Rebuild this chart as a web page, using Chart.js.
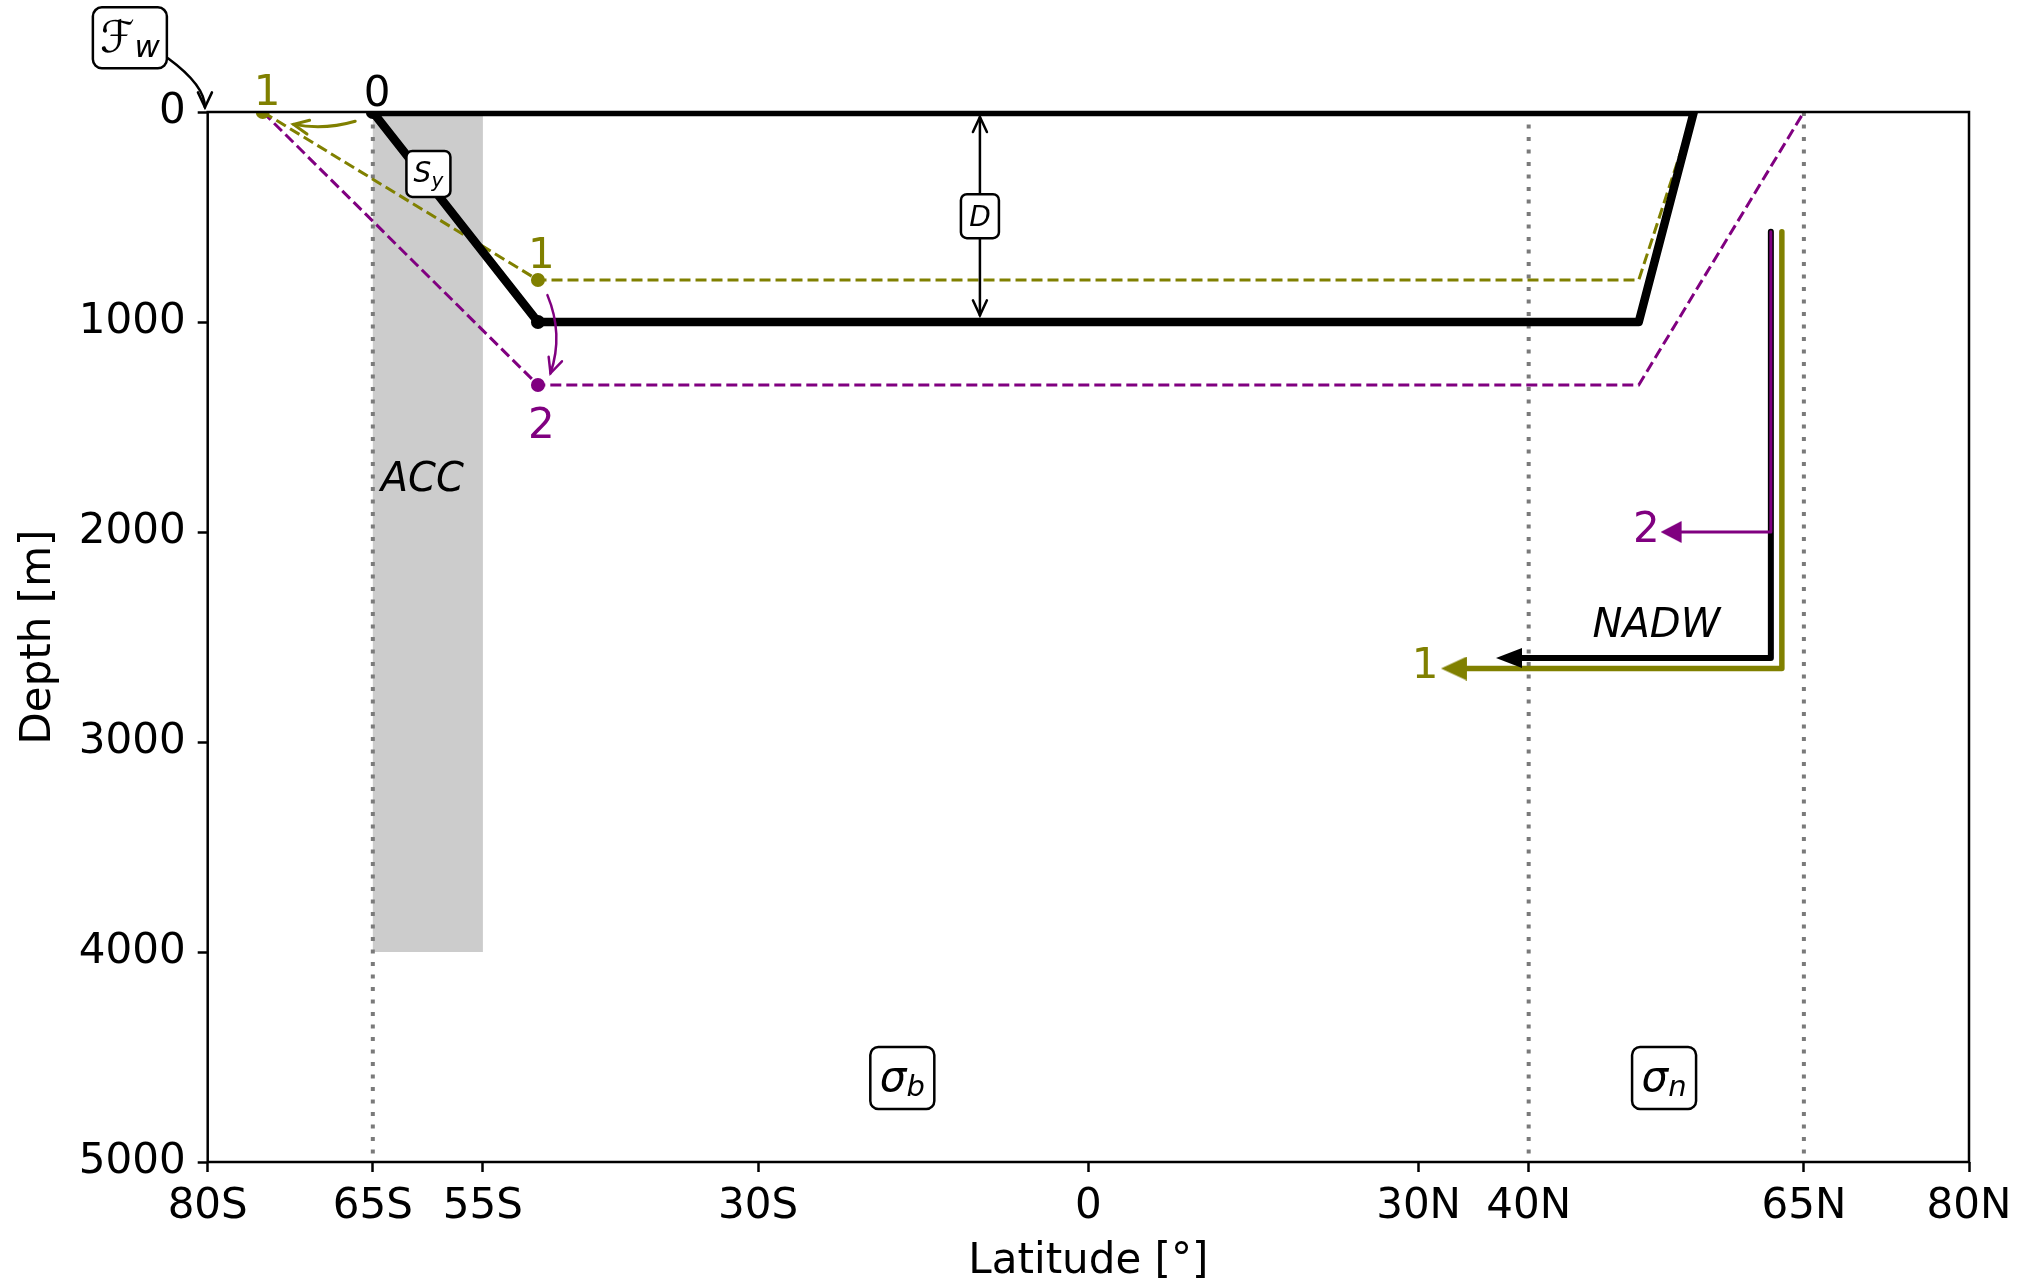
<!DOCTYPE html>
<html>
<head>
<meta charset="utf-8">
<script src="https://cdn.jsdelivr.net/npm/chart.js@4.4.1/dist/chart.umd.min.js"></script>
<style>
html, body { margin: 0; padding: 0; background: #fff; }
</style>
</head>
<body>
<canvas id="myChart" width="2034" height="1283"></canvas>
<script>
const olive = '#808000';
const purple = '#800080';
const FONT = '"DejaVu Sans", "Liberation Sans", sans-serif';

// axes
const xTickVals = [-80, -65, -55, -30, 0, 30, 40, 65, 80];
const xTickLabels = ['80S', '65S', '55S', '30S', '0', '30N', '40N', '65N', '80N'];
const yTickVals = [0, 1000, 2000, 3000, 4000, 5000];

// ACC band
const accLat = [-65, -55, -55, -65];
const accDepth = [0, 0, 4000, 4000];
// dotted latitudes
const frontLat = [-65, 40, 65];

// pycnocline states
const baseLat = [-65, -50, 50, 55, -65];
const baseDepth = [0, 1000, 1000, 0, 0];
const pert1Lat = [-75, -50, 50, 55];
const pert1Depth = [0, 800, 800, 0];
const pert2Lat = [-75, -50, 50, 65];
const pert2Depth = [0, 1300, 1300, 0];

// NADW outflow paths (last point = arrow base)
const nadw0Lat = [62, 62, 39.3];
const nadw0Depth = [570, 2600, 2600];
const nadw1Lat = [63, 63, 34.3];
const nadw1Depth = [570, 2650, 2650];
const nadw2Lat = [62, 62, 53.8];
const nadw2Depth = [570, 2000, 2000];

// text annotations (data coords)
const numNotes = [
    { text: '0', lat: -64.6, depth: -103, color: '#000' },
    { text: '1', lat: -74.6, depth: -106, color: olive },
    { text: '1', lat: -49.7, depth: 668, color: olive },
    { text: '2', lat: -49.7, depth: 1480, color: purple },
    { text: '2', lat: 50.7, depth: 1976, color: purple },
    { text: '1', lat: 30.6, depth: 2624, color: olive }
];
const wordNotes = [
    { text: 'ACC', lat: -60.5, depth: 1734 },
    { text: 'NADW', lat: 51.6, depth: 2431 }
];
const boxNotes = [
    { main: 'ℱ', sub: 'w', lat: -87.07, depth: -353, size: 44, w: 74, h: 61, r: 9, base: 14, italic: false },
    { main: 'S', sub: 'y', lat: -59.95, depth: 295, size: 28, w: 44, h: 46, r: 6, base: 8, italic: true },
    { main: 'D', sub: '', lat: -9.85, depth: 496, size: 28, w: 38, h: 44, r: 6, base: 10, italic: true },
    { main: 'σ', sub: 'b', lat: -16.9, depth: 4600, size: 42, w: 64, h: 62, r: 8, base: 13, italic: true },
    { main: 'σ', sub: 'n', lat: 52.3, depth: 4600, size: 42, w: 64, h: 62, r: 8, base: 13, italic: true }
];
const curveNotes = [
    { from: [-83.61, -256], ctrl: [-80.25, -127], to: [-80.25, -22], color: '#000', width: 2.5 },
    { from: [-66.6, 44], ctrl: [-69.4, 87], to: [-72.2, 59], color: olive, width: 3 },
    { from: [-49.14, 872], ctrl: [-47.66, 1058], to: [-48.86, 1244], color: purple, width: 2.5 }
];
const dArrow = { lat: -9.85, top: 24, bottom: 968 };

const pts = (xs, ys) => xs.map((x, i) => ({ x, y: ys[i] }));

// filled arrow head, base at canvas centre, tip pointing left
function headImg(color, len, half) {
    const c = document.createElement('canvas');
    c.width = len * 2; c.height = half * 2;
    const g = c.getContext('2d');
    g.fillStyle = color;
    g.beginPath();
    g.moveTo(0, half); g.lineTo(len + 1, 0); g.lineTo(len + 1, half * 2);
    g.closePath(); g.fill();
    return c;
}

const datasets = [];
datasets.push({
    data: pts(accLat, accDepth), showLine: true, fill: 'shape',
    backgroundColor: '#cccccc', borderColor: 'rgba(0,0,0,0)', borderWidth: 0,
    pointRadius: 0, order: 20
});
frontLat.forEach(lat => datasets.push({
    data: [{ x: lat, y: 0 }, { x: lat, y: 5000 }], showLine: true,
    borderColor: '#7a7a7a', borderWidth: 4, borderDash: [4, 8.5],
    pointRadius: 0, order: 15, clip: 0
}));
datasets.push({
    data: pts(pert2Lat, pert2Depth), showLine: true,
    borderColor: purple, borderWidth: 3, borderDash: [11, 5],
    pointRadius: [0, 7, 0, 0], pointBackgroundColor: purple, pointBorderWidth: 0,
    order: 7, clip: 0
});
datasets.push({
    data: pts(pert1Lat, pert1Depth), showLine: true,
    borderColor: olive, borderWidth: 3, borderDash: [11, 5],
    pointRadius: [7, 7, 0, 0], pointBackgroundColor: olive, pointBorderWidth: 0,
    order: 6, clip: 0
});
datasets.push({
    data: pts(baseLat, baseDepth), showLine: true,
    borderColor: '#000', borderWidth: 8.5, borderJoinStyle: 'round',
    pointRadius: [7, 7, 0, 0, 0], pointBackgroundColor: '#000', pointBorderWidth: 0,
    order: 5, clip: 0
});
const arrowSets = [
    [nadw1Lat, nadw1Depth, olive, 5.5, headImg(olive, 25, 12), 4],
    [nadw0Lat, nadw0Depth, '#000', 6, headImg('#000', 25, 10), 3],
    [nadw2Lat, nadw2Depth, purple, 3, headImg(purple, 20, 11), 2]
];
arrowSets.forEach(([la, de, col, w, img, ord]) => datasets.push({
    data: pts(la, de), showLine: true,
    borderColor: col, borderWidth: w, borderCapStyle: 'round', borderJoinStyle: 'round',
    pointRadius: [0, 0, 5], pointStyle: ['circle', 'circle', img],
    order: ord
}));

function openHead(c, tx, ty, ang, len, half) {
    const ca = Math.cos(ang), sa = Math.sin(ang);
    const bx = tx - ca * len, by = ty - sa * len;
    c.beginPath();
    c.moveTo(bx - sa * half, by + ca * half);
    c.lineTo(tx, ty);
    c.lineTo(bx + sa * half, by - ca * half);
    c.stroke();
}

function roundBox(c, x, y, w, h, r) {
    c.beginPath();
    c.moveTo(x + r, y);
    c.arcTo(x + w, y, x + w, y + h, r);
    c.arcTo(x + w, y + h, x, y + h, r);
    c.arcTo(x, y + h, x, y, r);
    c.arcTo(x, y, x + w, y, r);
    c.closePath();
}

const notesPlugin = {
    id: 'notes',
    afterDatasetsDraw(chart) {
        const c = chart.ctx, xs = chart.scales.x, ys = chart.scales.y, a = chart.chartArea;
        const P = (lat, d) => [xs.getPixelForValue(lat), ys.getPixelForValue(d)];
        c.save();
        // frame
        c.strokeStyle = '#000'; c.lineWidth = 2.5;
        c.strokeRect(a.left, a.top, a.right - a.left, a.bottom - a.top);

        // numbers
        c.textAlign = 'center'; c.textBaseline = 'alphabetic';
        c.font = '42px ' + FONT;
        numNotes.forEach(n => {
            const [x, y] = P(n.lat, n.depth);
            c.fillStyle = n.color;
            c.fillText(n.text, x, y + 15.3);
        });
        c.font = 'italic 40px ' + FONT;
        c.fillStyle = '#000';
        wordNotes.forEach(n => {
            const [x, y] = P(n.lat, n.depth);
            c.fillText(n.text, x, y + 14.6);
        });

        // curved arrows
        c.lineCap = 'round';
        curveNotes.forEach(k => {
            const [x0, y0] = P(...k.from), [x1, y1] = P(...k.ctrl), [x2, y2] = P(...k.to);
            c.strokeStyle = k.color; c.lineWidth = k.width;
            c.beginPath(); c.moveTo(x0, y0); c.quadraticCurveTo(x1, y1, x2, y2); c.stroke();
            openHead(c, x2, y2, Math.atan2(y2 - y1, x2 - x1), 15, 7);
        });

        // D double arrow
        const [dx, dt] = P(dArrow.lat, dArrow.top), [, db] = P(dArrow.lat, dArrow.bottom);
        c.strokeStyle = '#000'; c.lineWidth = 2.5;
        c.beginPath(); c.moveTo(dx, dt); c.lineTo(dx, db); c.stroke();
        openHead(c, dx, dt, -Math.PI / 2, 15, 7);
        openHead(c, dx, db, Math.PI / 2, 15, 7);

        // boxed symbols
        boxNotes.forEach(b => {
            const [x, y] = P(b.lat, b.depth);
            roundBox(c, x - b.w / 2, y - b.h / 2, b.w, b.h, b.r);
            c.fillStyle = '#fff'; c.fill();
            c.strokeStyle = '#000'; c.lineWidth = 2.5; c.stroke();
            const mf = (b.italic ? 'italic ' : '') + b.size + 'px ' + FONT;
            const sf = 'italic ' + Math.round(b.size * 0.7) + 'px ' + FONT;
            c.font = mf; const mw = c.measureText(b.main).width;
            c.font = sf; const sw = b.sub ? c.measureText(b.sub).width : 0;
            const x0 = x - (mw + sw) / 2;
            c.fillStyle = '#000'; c.textAlign = 'left';
            c.font = mf; c.fillText(b.main, x0, y + b.base);
            if (b.sub) { c.font = sf; c.fillText(b.sub, x0 + mw, y + b.base + 5); }
            c.textAlign = 'center';
        });
        c.restore();
    }
};

const tickFont = { family: FONT, size: 42 };
const myChart = new Chart(document.getElementById('myChart'), {
    type: 'scatter',
    data: { datasets },
    options: {
        responsive: false,
        animation: false,
        layout: { padding: { top: 112, right: 65, left: 0, bottom: 0 } },
        plugins: { legend: { display: false }, tooltip: { enabled: false } },
        scales: {
            x: {
                type: 'linear', min: -80, max: 80,
                afterBuildTicks: s => { s.ticks = xTickVals.map(v => ({ value: v })); },
                afterFit: s => { s.height = 121; },
                ticks: {
                    autoSkip: false, maxRotation: 0, padding: 10, color: '#000', font: tickFont,
                    callback: v => xTickLabels[xTickVals.indexOf(v)]
                },
                grid: { drawOnChartArea: false, drawTicks: true, tickLength: 10, tickColor: '#000', tickWidth: 2.5 },
                border: { display: false },
                title: { display: true, text: 'Latitude [°]', color: '#000', font: tickFont, padding: { top: 0, bottom: -4 } }
            },
            y: {
                type: 'linear', reverse: true, min: 0, max: 5000,
                afterBuildTicks: s => { s.ticks = yTickVals.map(v => ({ value: v })); },
                afterFit: s => { s.width = 207.7; },
                ticks: { padding: 12, color: '#000', font: tickFont, callback: v => String(v) },
                grid: { drawOnChartArea: false, drawTicks: true, tickLength: 10, tickColor: '#000', tickWidth: 2.5 },
                border: { display: false },
                title: { display: true, text: 'Depth [m]', color: '#000', font: tickFont, padding: { top: 14, bottom: 0 } }
            }
        }
    },
    plugins: [notesPlugin]
});
</script>
</body>
</html>
